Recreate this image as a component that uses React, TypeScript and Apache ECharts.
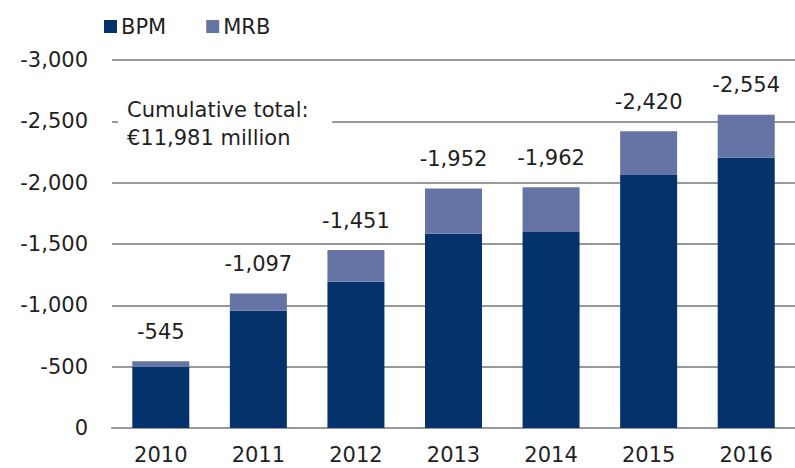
import React, { useEffect, useRef } from "react";
import * as echarts from "echarts";

const categories = ["2010", "2011", "2012", "2013", "2014", "2015", "2016"];
const bpm = [-497, -956, -1193, -1584, -1598, -2062, -2204];
const mrb = [-48, -141, -258, -368, -364, -358, -350];
const totals = [-545, -1097, -1451, -1952, -1962, -2420, -2554];
const annotationLines = ["Cumulative total:", "€11,981 million"];

const FONT = "'DejaVu Sans', sans-serif";
const FS = 21;
const TXT = "#1f1f1f";

const fmt = (v: number) => {
  const s = Math.abs(v).toLocaleString("en-US");
  return (v < 0 ? "-" : "") + s;
};

export default function App() {
  const ref = useRef<HTMLDivElement>(null);
  useEffect(() => {
    if (!ref.current) return;
    const chart = echarts.init(ref.current, null, { renderer: "svg" });
    chart.setOption({
      animation: false,
      textStyle: { fontFamily: FONT },
      legend: {
        left: 99,
        top: 11,
        itemWidth: 13,
        itemHeight: 13,
        itemGap: 40,
        itemStyle: { borderWidth: 0 },
        icon: "rect",
        textStyle: { fontSize: FS, color: TXT, fontFamily: FONT, padding: [0, 0, 0, -1] },
        data: ["BPM", "MRB"],
      },
      grid: { left: 112, top: 60, width: 690, height: 368, containLabel: false },
      xAxis: {
        type: "category",
        data: categories,
        axisLine: { lineStyle: { color: "#999", width: 2 } },
        axisTick: { inside: true, length: 8, lineStyle: { color: "#999", width: 2 } },
        axisLabel: { fontSize: FS, color: TXT, margin: 16, fontFamily: FONT },
      },
      yAxis: {
        type: "value",
        inverse: true,
        min: -3000,
        max: 0,
        interval: 500,
        axisLine: { show: false },
        axisTick: { show: false },
        splitLine: { lineStyle: { color: "#999", width: 2 } },
        axisLabel: {
          fontSize: FS,
          color: TXT,
          margin: 24,
          fontFamily: FONT,
          formatter: (v: number) => fmt(v),
        },
      },
      series: [
        {
          name: "BPM",
          type: "bar",
          stack: "t",
          data: bpm,
          barWidth: 57,
          itemStyle: { color: "#04336C" },
        },
        {
          name: "MRB",
          type: "bar",
          stack: "t",
          data: mrb,
          barWidth: 57,
          itemStyle: { color: "#6673A5" },
          label: {
            show: true,
            position: "top",
            distance: 19,
            fontSize: FS,
            color: TXT,
            fontFamily: FONT,
            formatter: (p: any) => fmt(totals[p.dataIndex]),
          },
        },
      ],
      graphic: [
        {
          type: "rect",
          left: 118,
          top: 95,
          shape: { width: 214, height: 58 },
          style: { fill: "#fff" },
          z: 100,
        },
        {
          type: "text",
          left: 127,
          top: 96,
          z: 101,
          style: {
            text: annotationLines.join("\n"),
            font: `${FS}px ${FONT}`,
            lineHeight: 28,
            fill: TXT,
          },
        },
      ],
    });
    return () => chart.dispose();
  }, []);
  return (
    <div
      ref={ref}
      style={{ position: "absolute", left: 0, top: 0, width: 795, height: 468 }}
    />
  );
}
